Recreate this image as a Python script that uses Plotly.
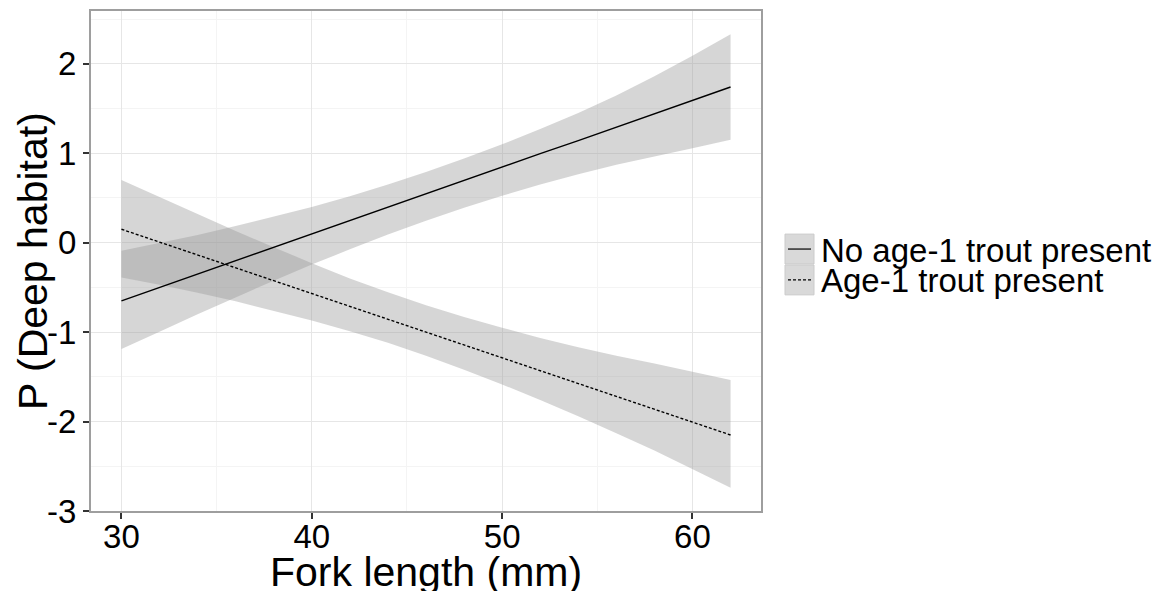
import plotly.graph_objects as go

# Fork length grid (mm) and fitted values with confidence bands
fork_length = [30, 32, 34, 36, 38, 40, 42, 44, 46, 48, 50, 52, 54, 56, 58, 60, 62]

no_age1_fit = [-0.65, -0.50, -0.35, -0.20, -0.05, 0.10, 0.25, 0.40, 0.545, 0.695,
               0.845, 0.995, 1.14, 1.29, 1.44, 1.59, 1.74]
no_age1_lower = [-1.19, -0.995, -0.80, -0.61, -0.425, -0.245, -0.075, 0.09, 0.245, 0.39,
                 0.525, 0.65, 0.765, 0.87, 0.965, 1.055, 1.15]
no_age1_upper = [-0.09, -0.005, 0.085, 0.185, 0.29, 0.40, 0.52, 0.65, 0.79, 0.94,
                 1.10, 1.27, 1.45, 1.645, 1.86, 2.09, 2.33]

age1_fit = [0.15, 0.006, -0.14, -0.28, -0.425, -0.57, -0.71, -0.855, -1.00, -1.145,
            -1.29, -1.43, -1.575, -1.72, -1.865, -2.01, -2.15]
age1_lower = [-0.39, -0.47, -0.56, -0.655, -0.76, -0.87, -0.99, -1.12, -1.265, -1.42,
              -1.585, -1.76, -1.94, -2.13, -2.325, -2.53, -2.74]
age1_upper = [0.70, 0.51, 0.32, 0.13, -0.05, -0.23, -0.40, -0.555, -0.70, -0.83,
              -0.95, -1.065, -1.17, -1.265, -1.35, -1.44, -1.535]

series_names = ["No age-1 trout present", "Age-1 trout present"]
x_ticks = [30, 40, 50, 60]
y_ticks = [-3, -2, -1, 0, 1, 2]

W, H = 1162, 591
ML, MR, MT, MB = 91, 401, 9, 80
PW, PH = W - ML - MR, H - MT - MB

RIBBON = "rgba(153,153,153,0.4)"
FONT = "Liberation Sans, Arial, sans-serif"


def px_x(p):
    return (p - ML) / PW


def px_y(p):
    return (H - MB - p) / PH


fig = go.Figure()

# confidence ribbons
for lo, hi in [(no_age1_lower, no_age1_upper), (age1_lower, age1_upper)]:
    fig.add_trace(go.Scatter(
        x=fork_length + fork_length[::-1],
        y=hi + lo[::-1],
        fill="toself", fillcolor=RIBBON,
        line=dict(width=0), mode="lines",
        hoverinfo="skip", showlegend=False,
    ))

# fitted lines
fig.add_trace(go.Scatter(x=fork_length, y=no_age1_fit, mode="lines",
                         line=dict(color="black", width=1.4),
                         name=series_names[0], showlegend=False))
fig.add_trace(go.Scatter(x=fork_length, y=age1_fit, mode="lines",
                         line=dict(color="black", width=1.4, dash="3px,2px"),
                         name=series_names[1], showlegend=False))

axis_common = dict(
    showline=True, mirror=True, linecolor="#9E9E9E", linewidth=2,
    ticks="outside", ticklen=6, tickwidth=2, tickcolor="#333333",
    tickfont=dict(family=FONT, size=33, color="black"),
    showgrid=True, gridcolor="#E6E6E6", gridwidth=1,
    zeroline=False,
)

fig.update_xaxes(range=[28.4, 63.6], tickvals=x_ticks, ticklabelstandoff=-11,
                 minor=dict(dtick=5, tick0=30, showgrid=True, gridcolor="#F4F4F4", ticks=""),
                 **axis_common)
fig.update_yaxes(range=[-3.0, 2.59], tickvals=y_ticks,
                 ticktext=[str(v) for v in y_ticks],
                 minor=dict(dtick=0.5, tick0=0, showgrid=True, gridcolor="#F4F4F4", ticks=""),
                 **axis_common)

annotations = [
    dict(text="Fork length (mm)", x=0.5, y=px_y(572), xref="paper", yref="paper",
         xanchor="center", yanchor="middle", showarrow=False,
         font=dict(family=FONT, size=41, color="black")),
    dict(text="P (Deep habitat)", x=px_x(33), y=0.5, xref="paper", yref="paper",
         xanchor="center", yanchor="middle", textangle=-90, showarrow=False,
         font=dict(family=FONT, size=41, color="black")),
]

# legend drawn as keys (ribbon box + line sample) with labels
shapes = []
key_x0, key_x1 = 785, 814
key_tops = [233, 264]
dashes = ["solid", "3px,2px"]
for i, top in enumerate(key_tops):
    shapes.append(dict(type="rect", xref="paper", yref="paper",
                       x0=px_x(key_x0), x1=px_x(key_x1),
                       y0=px_y(top + 30), y1=px_y(top),
                       fillcolor="#D9D9D9", line=dict(color="#CBCBCB", width=1)))
    cy = top + 15
    shapes.append(dict(type="line", xref="paper", yref="paper",
                       x0=px_x(key_x0 + 3), x1=px_x(key_x1 - 3),
                       y0=px_y(cy), y1=px_y(cy),
                       line=dict(color="black", width=1.2, dash=dashes[i])))
    annotations.append(dict(text=series_names[i], x=px_x(819), y=px_y(cy + 1),
                            xref="paper", yref="paper", xanchor="left", yanchor="middle",
                            showarrow=False,
                            font=dict(family=FONT, size=33, color="black")))

fig.update_layout(
    width=W, height=H,
    margin=dict(l=ML, r=MR, t=MT, b=MB),
    paper_bgcolor="white", plot_bgcolor="white",
    showlegend=False,
    annotations=annotations, shapes=shapes,
)

fig.write_html("out.html")
